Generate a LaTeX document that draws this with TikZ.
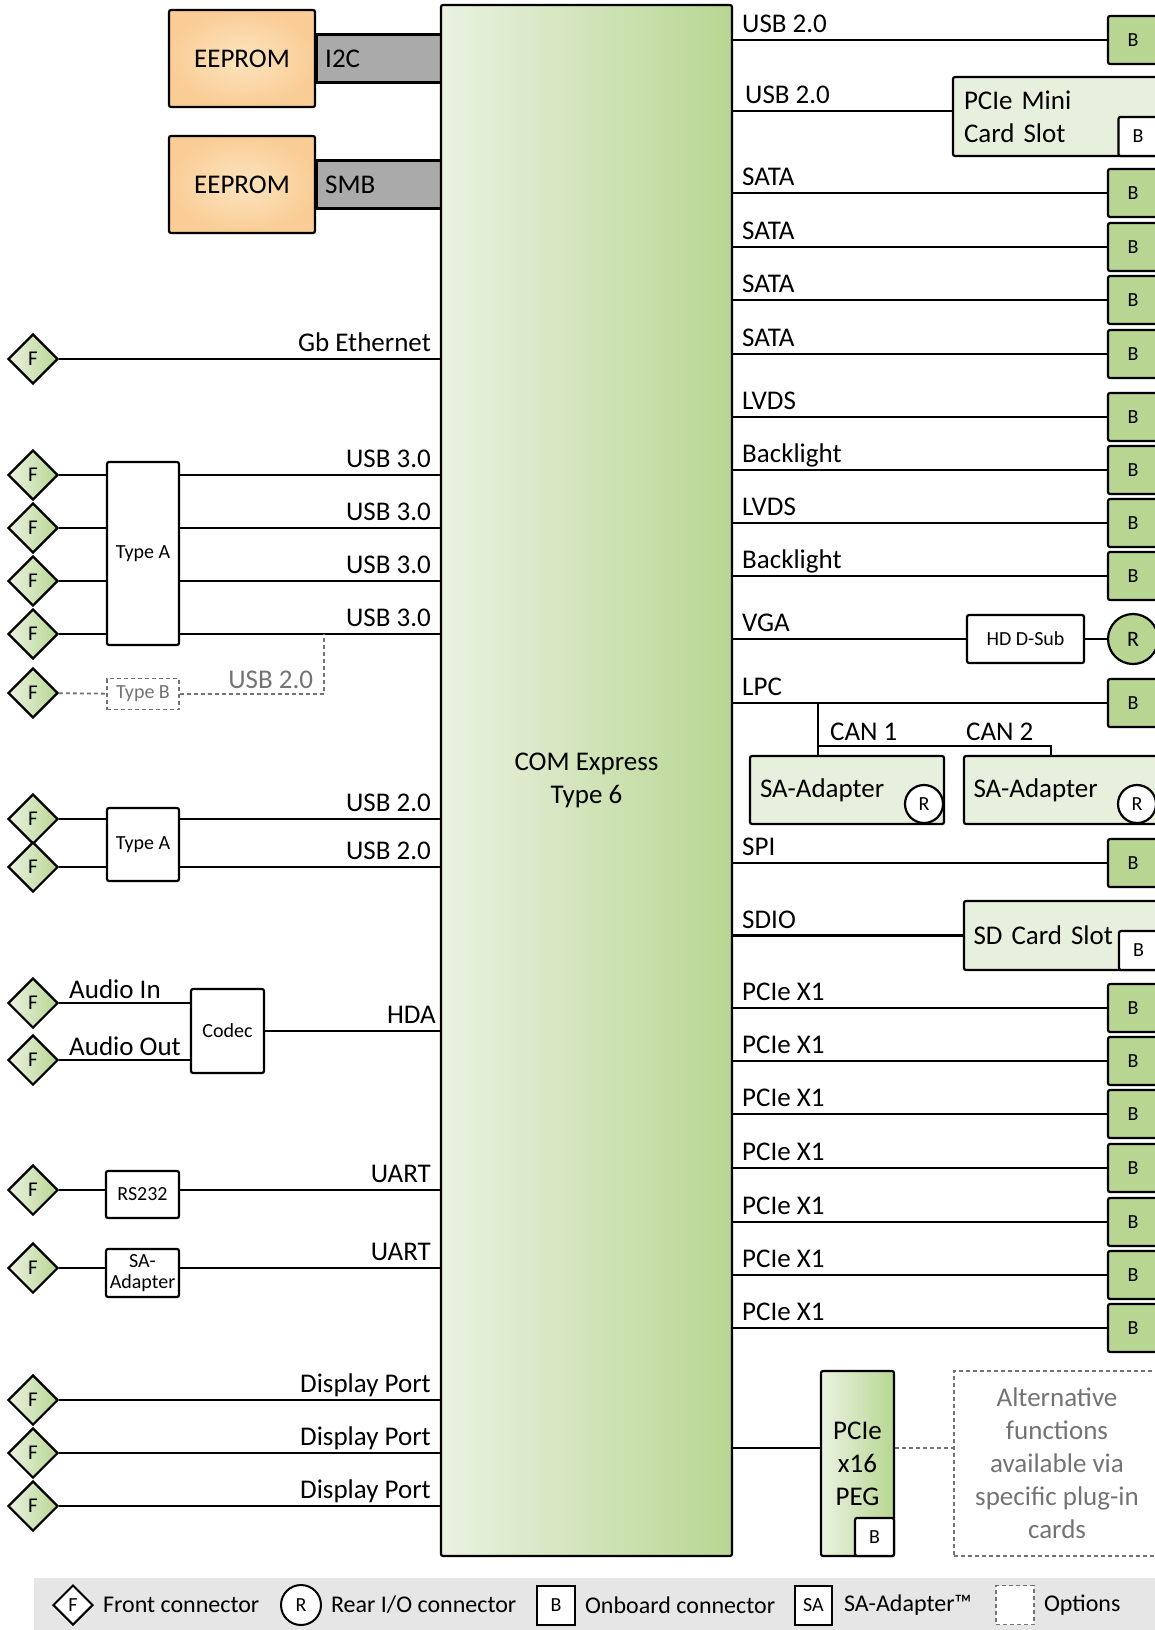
\documentclass[tikz,border=0pt]{standalone}
\usepackage{fontspec}
\setmainfont{Carlito}
\usetikzlibrary{shapes.geometric,positioning}
\definecolor{grnL}{RGB}{234,242,225}
\definecolor{grnR}{RGB}{184,214,146}
\definecolor{grnB}{RGB}{184,214,146}
\definecolor{paleG}{RGB}{231,240,221}
\definecolor{orgIn}{RGB}{252,228,190}
\definecolor{orgOut}{RGB}{250,205,150}
\definecolor{busG}{RGB}{170,170,170}
\definecolor{optG}{RGB}{115,115,115}
\definecolor{legG}{RGB}{230,230,230}
\newcommand\bigtxt{\fontsize{27}{33}\selectfont}
\newcommand\midtxt{\fontsize{24}{28}\selectfont}
\newcommand\smltxt{\fontsize{20}{24}\selectfont}

\begin{document}
\begin{tikzpicture}[x=1pt,y=-1pt,line width=2.2pt,node distance=8pt,
  box/.style={draw,line width=2.2pt,rounded corners=2pt,inner sep=0pt},
  optbox/.style={draw=optG,line width=1.8pt,dash pattern=on 4pt off 3pt,inner sep=0pt},
  optline/.style={draw=optG,line width=1.8pt,dash pattern=on 4pt off 3pt},
  fconn/.style={draw,diamond,line width=2.2pt,minimum width=50,minimum height=50,inner sep=0pt,left color=grnL,right color=grnR,font=\fontsize{21}{24}\selectfont},
  rconn/.style={draw,circle,line width=2.2pt,minimum size=50,inner sep=0pt,fill=grnB,font=\fontsize{22}{24}\selectfont},
  rsmall/.style={draw,circle,line width=2.2pt,minimum size=38,inner sep=0pt,fill=white,font=\smltxt},
  bconn/.style={box,fill=grnB,minimum width=50,minimum height=48,font=\smltxt},
  bsmall/.style={box,fill=white,minimum width=39,minimum height=39,font=\smltxt},
  chip/.style={box,fill=white,minimum width=73,font=\smltxt},
  card/.style={box,fill=paleG,align=left,font=\bigtxt},
  txt/.style={inner sep=0pt,font=\bigtxt},
  lblL/.style={txt,pos=1,anchor=base east,xshift=-8,yshift=8},
  lblR/.style={txt,pos=0,anchor=base west,xshift=8,yshift=7.5}]
\useasboundingbox (0,0) rectangle (1155,1630);
\clip (0,0) rectangle (1155,1630);

% eeproms
\node[box,inner color=orgIn,outer color=orgOut,minimum width=146,minimum height=97,font=\bigtxt] (ee1) at (242,58.5) {EEPROM};
\node[box,inner color=orgIn,outer color=orgOut,minimum width=146,minimum height=97,font=\bigtxt] (ee2) at (242,184.5) {EEPROM};
\node[box,rounded corners=0pt,fill=busG,minimum height=48,text width=112,inner xsep=8,align=left,font=\bigtxt,anchor=west] (i2c) at (ee1.east) {I2C};
\node[box,rounded corners=0pt,fill=busG,minimum height=48,text width=112,inner xsep=8,align=left,font=\bigtxt,anchor=west] (smb) at (ee2.east) {SMB};

% module
\node[box,left color=grnL,right color=grnR,minimum width=291,minimum height=1551,align=center,font=\bigtxt] (com) at (586.5,780.5) {COM Express\\Type 6};

% left side
\node[fconn] (fEth) at (33,359) {F};
\draw (fEth) -- (fEth -| com.west) node[lblL]{Gb Ethernet};

\node[chip,minimum width=72,minimum height=183] (tA1) at (143,553.5) {Type A};
\foreach \y [count=\i] in {475,528,581,634}{
  \node[fconn] (fU\i) at (33,\y) {F};
  \draw (fU\i) -- (fU\i -| tA1.west);
  \draw (fU\i -| tA1.east) -- (fU\i -| com.west) node[lblL]{USB 3.0};
}
\node[fconn] (fUB) at (33,693) {F};
\node[optbox,minimum width=72,minimum height=31,text=optG,font=\smltxt] (tB) at (143,694) {Type B};
\coordinate (usbTap) at (324,634);
\draw[optline] (fUB) -- (tB);
\draw[optline] (tB) -| (usbTap) node[txt,pos=0.5,anchor=base east,xshift=-10,yshift=6,text=optG]{USB 2.0};

\node[chip,minimum width=72,minimum height=73] (tA2) at (143,844.5) {Type A};
\foreach \y [count=\i from 5] in {819,867}{
  \node[fconn] (fU\i) at (33,\y) {F};
  \draw (fU\i) -- (fU\i -| tA2.west);
  \draw (fU\i -| tA2.east) -- (fU\i -| com.west) node[lblL]{USB 2.0};
}

\node[chip,minimum height=84] (codec) at (227.5,1031) {Codec};
\node[fconn] (fAin) at (33,1003) {F};
\node[fconn] (fAout) at (33,1060) {F};
\draw (fAin) -- (fAin -| codec.west) node[txt,pos=0,anchor=base west,xshift=9,yshift=5]{Audio In};
\draw (fAout) -- (fAout -| codec.west) node[txt,pos=0,anchor=base west,xshift=9,yshift=5]{Audio Out};
\draw (codec) -- (codec -| com.west) node[lblL,xshift=5]{HDA};

\node[chip,minimum height=47] (rs) at (142.5,1194.5) {RS232};
\node[fconn] (fRs) at (33,1190) {F};
\draw (fRs) -- (fRs -| rs.west);
\draw (fRs -| rs.east) -- (fRs -| com.west) node[lblL]{UART};

\node[chip,minimum height=48,align=center,font=\fontsize{20}{21}\selectfont] (saL) at (142.5,1273) {SA-\\Adapter};
\node[fconn] (fSa) at (33,1268) {F};
\draw (fSa) -- (fSa -| saL.west);
\draw (fSa -| saL.east) -- (fSa -| com.west) node[lblL]{UART};

\foreach \y [count=\i] in {1400,1453,1506}{
  \node[fconn] (fDp\i) at (33,\y) {F};
  \draw (fDp\i) -- (fDp\i -| com.west) node[lblL]{Display Port};
}

% right side
\foreach \y/\t [count=\i] in {40/USB 2.0,193/SATA,247/SATA,300/SATA,354/SATA,417/LVDS,470/Backlight,523/LVDS,576/Backlight,863/SPI,1008/PCIe X1,1061/PCIe X1,1114/PCIe X1,1168/PCIe X1,1222/PCIe X1,1275/PCIe X1,1328/PCIe X1}{
  \node[bconn] (b\i) at (1133,\y) {B};
  \draw (b\i -| com.east) -- (b\i) node[lblR]{\t};
}

\node[card,minimum width=207,minimum height=79,text width=185,inner xsep=11] (mini) at (1056.5,116.5) {PCIe Mini\\Card Slot};
\node[bsmall] (miniB) at (1138,136.5) {B};
\coordinate (miniIn) at ([yshift=5.5pt]mini.west);
\draw (miniIn -| com.east) -- (miniIn) node[lblR,xshift=3]{USB 2.0};

\node[chip,minimum width=117,minimum height=48] (dsub) at (1025.5,639) {HD D-Sub};
\node[rconn] (rVga) at (1133,639) {R};
\draw (dsub -| com.east) -- (dsub) node[lblR]{VGA};
\draw (dsub) -- (rVga);

\node[bconn] (bLpc) at (1133,703) {B};
\draw (bLpc -| com.east) -- (bLpc) node[lblR]{LPC};
\node[card,minimum width=194,minimum height=68,text width=174,inner xsep=10] (sa1) at (847,790) {SA-Adapter};
\node[rsmall] (sa1R) at (924,804) {R};
\node[card,minimum width=196,minimum height=68,text width=177,inner xsep=9.5] (sa2) at (1062,790) {SA-Adapter};
\node[rsmall] (sa2R) at (1137,804) {R};
\coordinate (canTap) at (818,703);
\coordinate (canSplit) at (818,746);
\coordinate (can2) at (1051,756);
\draw (canTap) -- (canTap |- sa1.north);
\draw (canSplit) -| (can2);
\node[txt,anchor=base west] (can1Lbl) at (829,740) {CAN 1};
\node[txt,anchor=base west] (can2Lbl) at (965,740) {CAN 2};

\node[card,minimum width=196,minimum height=69,text width=177,inner xsep=9.5] (sd) at (1062,935.5) {SD Card Slot};
\node[bsmall] (sdB) at (1138.5,950.5) {B};
\draw (sd -| com.east) -- (sd) node[lblR]{SDIO};

\node[box,left color=grnL,right color=grnR,minimum width=73,minimum height=185,align=center,font=\bigtxt] (peg) at (857.5,1463.5) {PCIe\\x16\\PEG};
\node[bsmall,minimum height=38] (pegB) at (874.5,1537) {B};
\coordinate (pegIn) at ([yshift=15.5pt]peg.west);
\draw (pegIn -| com.east) -- (pegIn);
\node[optbox,minimum width=206,minimum height=185,align=center,text=optG,font=\bigtxt] (opt) at (1057,1463.5) {Alternative\\functions\\available via\\specific plug-in\\cards};
\draw[optline] (pegIn -| peg.east) -- (pegIn -| opt.west);

% legend
\node[fill=legG,minimum width=1127,minimum height=63,inner sep=0pt,anchor=north west] (leg) at (33,1577) {};
\node[draw,diamond,line width=2pt,fill=white,minimum width=40,minimum height=40,inner sep=0pt,font=\smltxt] (lgF) at (73,1605) {F};
\node[right=of lgF,font=\midtxt,inner sep=0pt] (lgFt) {Front connector};
\node[draw,circle,line width=2pt,fill=white,minimum size=40,inner sep=0pt,font=\smltxt] (lgR) at (301,1605) {R};
\node[right=of lgR,font=\midtxt,inner sep=0pt] (lgRt) {Rear I/O connector};
\node[draw,line width=2pt,fill=white,minimum width=38,minimum height=39,inner sep=0pt,font=\smltxt] (lgB) at (556,1605) {B};
\node[right=of lgB,font=\midtxt,inner sep=0pt] (lgBt) {Onboard connector};
\node[draw,line width=2pt,fill=white,minimum width=37,minimum height=39,inner sep=0pt,font=\smltxt] (lgS) at (813.5,1605) {SA};
\node[right=10pt of lgS,font=\midtxt,inner sep=0pt] (lgSt) {SA-Adapter™};
\node[optbox,fill=white,minimum width=38,minimum height=39] (lgO) at (1015,1605) {};
\node[right=of lgO,font=\midtxt,inner sep=0pt] (lgOt) {Options};
\end{tikzpicture}
\end{document}
